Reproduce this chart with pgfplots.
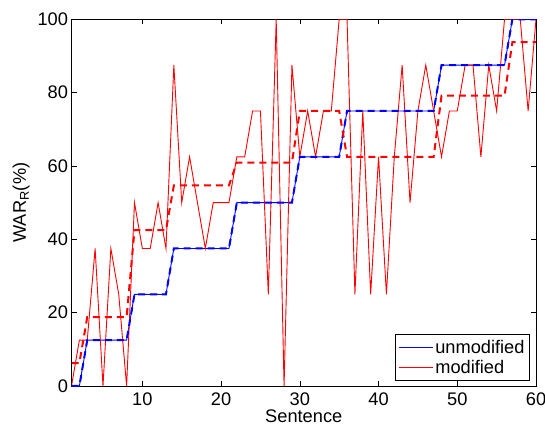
\documentclass[border=0pt]{standalone}
\usepackage{pgfplots}
\pgfplotsset{compat=1.18}
\usepackage{pgfplotstable}
\usepackage{fontspec}
\setmainfont{Liberation Sans}

% x: sentence, unmod: unmodified, mod: modified, modmean: mean of modified per group
\pgfplotstableread{
x unmod mod modmean
1 0 0 6.25
2 0 12.5 6.25
3 12.5 12.5 18.75
4 12.5 37.5 18.75
5 12.5 0 18.75
6 12.5 37.5 18.75
7 12.5 25 18.75
8 12.5 0 18.75
9 25 50 42.5
10 25 37.5 42.5
11 25 37.5 42.5
12 25 50 42.5
13 25 37.5 42.5
14 37.5 87.5 54.6875
15 37.5 50 54.6875
16 37.5 62.5 54.6875
17 37.5 50 54.6875
18 37.5 37.5 54.6875
19 37.5 50 54.6875
20 37.5 50 54.6875
21 37.5 50 54.6875
22 50 62.5 60.9375
23 50 62.5 60.9375
24 50 75 60.9375
25 50 75 60.9375
26 50 25 60.9375
27 50 100 60.9375
28 50 0 60.9375
29 50 87.5 60.9375
30 62.5 62.5 75
31 62.5 75 75
32 62.5 62.5 75
33 62.5 75 75
34 62.5 75 75
35 62.5 100 75
36 75 100 62.5
37 75 25 62.5
38 75 75 62.5
39 75 25 62.5
40 75 62.5 62.5
41 75 25 62.5
42 75 62.5 62.5
43 75 87.5 62.5
44 75 50 62.5
45 75 75 62.5
46 75 87.5 62.5
47 75 75 62.5
48 87.5 62.5 79.1667
49 87.5 75 79.1667
50 87.5 75 79.1667
51 87.5 87.5 79.1667
52 87.5 87.5 79.1667
53 87.5 62.5 79.1667
54 87.5 87.5 79.1667
55 87.5 75 79.1667
56 87.5 100 79.1667
57 100 100 93.75
58 100 100 93.75
59 100 75 93.75
60 100 100 93.75
}\wardata

\begin{document}
\begin{tikzpicture}
\begin{axis}[
    scale only axis,
    width=464.5bp, height=366.7bp,
    xmin=1, xmax=60, ymin=0, ymax=100,
    xtick={10,20,30,40,50,60},
    ytick={0,20,40,60,80,100},
    tick align=inside,
    major tick length=5bp,
    axis line style={line width=0.9bp},
    every tick/.style={black, line width=0.6bp},
    tick label style={font=\fontsize{18.3}{22}\selectfont},
    label style={font=\fontsize{18.3}{22}\selectfont},
    /pgf/number format/assume math mode=true,
    xticklabel style={yshift=-3bp},
    xlabel={Sentence},
    xlabel style={inner sep=0pt, yshift=-1bp},
    ylabel={WAR\textsubscript{R}(\%)},
    ylabel style={yshift=1bp},
    legend style={at={(0.987,0.0145)}, anchor=south east,
        draw=black, line width=0.9bp, inner xsep=3bp, inner ysep=3bp,
        font=\fontsize{18.3}{22}\selectfont,
        row sep=2bp},
    legend cell align=left,
    legend image code/.code={\draw[#1, line width=1bp] (3bp,0bp) -- (32bp,0bp);
        \path (0bp,0bp) -- (34bp,0bp);},
]
\addplot[blue, line width=0.9bp] table[x=x, y=unmod] {\wardata};
\addlegendentry{unmodified}
\addplot[red, line width=0.9bp] table[x=x, y=mod] {\wardata};
\addlegendentry{modified}
\addplot[blue, line width=2bp, dash pattern=on 7bp off 5bp, forget plot] table[x=x, y=unmod] {\wardata};
\addplot[red, line width=2bp, dash pattern=on 7bp off 5bp, forget plot] table[x=x, y=modmean] {\wardata};
\end{axis}
\pgfresetboundingbox
\path[use as bounding box] (-71.5bp,-42bp) rectangle (473.5bp,386bp);
\end{tikzpicture}
\end{document}
